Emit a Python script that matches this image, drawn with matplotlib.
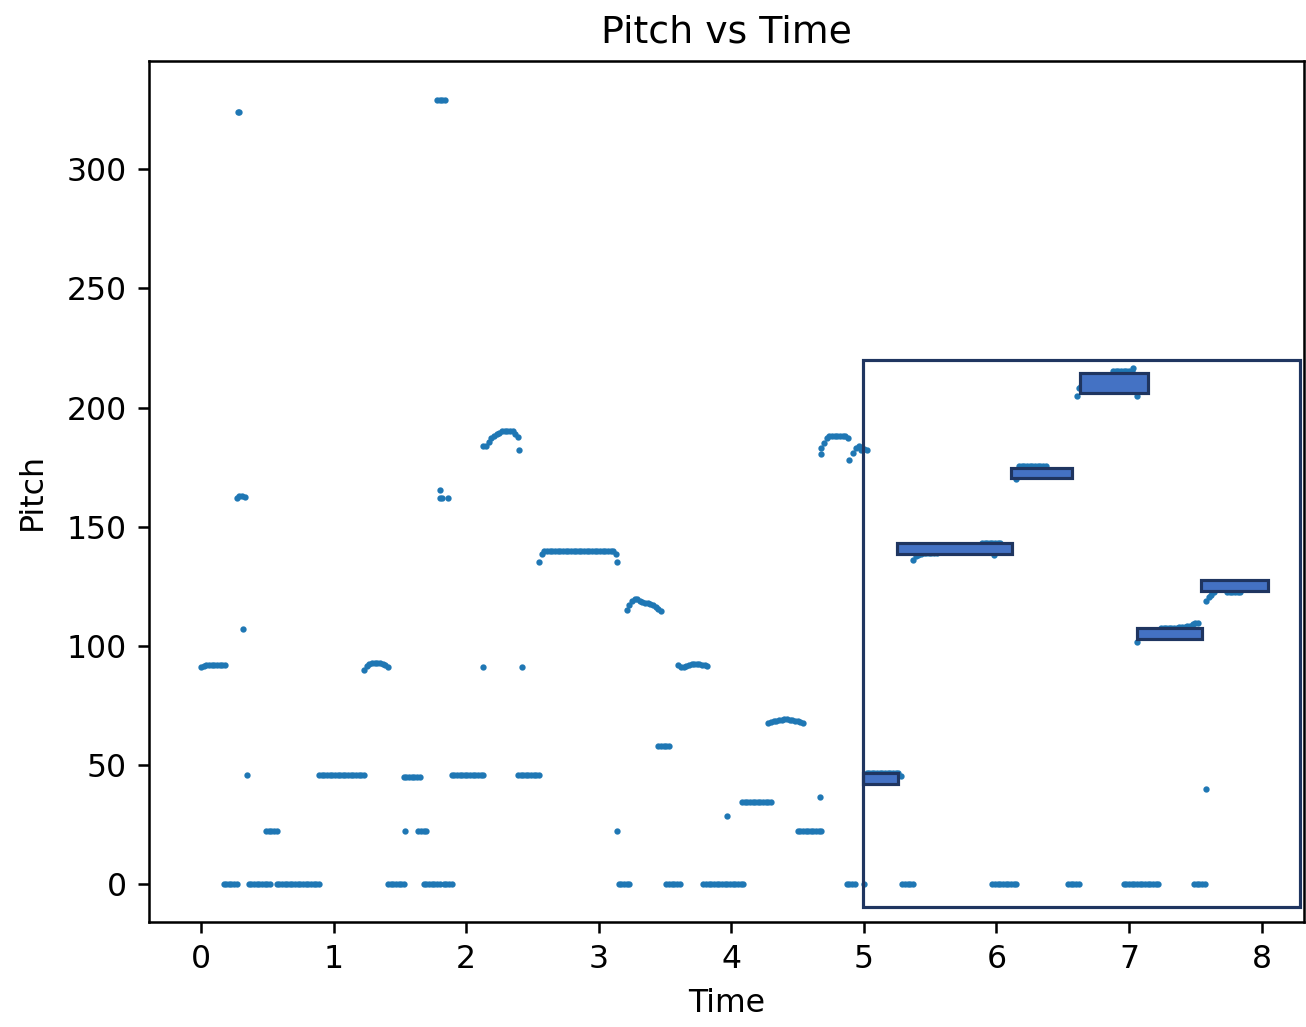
import matplotlib
matplotlib.use("Agg")
from matplotlib import pyplot as plt
from matplotlib.patches import Rectangle


# pitch track (time in s, pitch)
time_s = [
    0.00, 0.02, 0.04, 0.06, 0.08, 0.10, 0.12, 0.14, 0.16, 0.18,
    0.17, 0.19, 0.21, 0.23, 0.25, 0.27,
    0.28, 0.29,
    0.27, 0.29, 0.31, 0.33,
    0.32, 0.35,
    0.36, 0.38, 0.40, 0.42, 0.44, 0.46, 0.48, 0.50, 0.52,
    0.49, 0.51, 0.53, 0.55, 0.57,
    0.57, 0.59, 0.61, 0.63, 0.65, 0.67, 0.69, 0.71, 0.73, 0.75, 0.77, 0.79, 0.81, 0.83, 0.85, 0.87, 0.89,
    0.89, 0.91, 0.93, 0.95, 0.97, 0.99, 1.01, 1.03, 1.05, 1.07, 1.09, 1.11, 1.13, 1.15, 1.17, 1.19, 1.21, 1.23,
    1.23, 1.25, 1.27, 1.29, 1.31, 1.33, 1.35, 1.37, 1.39, 1.41,
    1.41, 1.43, 1.45, 1.47, 1.49, 1.51, 1.53,
    1.54,
    1.53, 1.55, 1.57, 1.59, 1.61, 1.63, 1.65,
    1.64, 1.66, 1.68, 1.70,
    1.68, 1.70, 1.72, 1.74, 1.76, 1.78, 1.80, 1.83, 1.85, 1.87, 1.89,
    1.78, 1.80, 1.82, 1.84,
    1.80, 1.80, 1.82, 1.86,
    1.89, 1.91, 1.93, 1.95, 1.97, 1.99, 2.01, 2.03, 2.05, 2.07, 2.09, 2.11, 2.13,
    2.13,
    2.13, 2.15, 2.17, 2.19, 2.21, 2.23, 2.25, 2.27, 2.29, 2.31, 2.33, 2.35, 2.37, 2.39,
    2.40, 2.42,
    2.39, 2.41, 2.43, 2.45, 2.47, 2.49, 2.51, 2.53, 2.55,
    2.55, 2.57, 2.59, 2.61, 2.63, 2.65, 2.67, 2.69, 2.71, 2.73, 2.75, 2.77, 2.79, 2.81, 2.83, 2.85,
    2.87, 2.89, 2.91, 2.93, 2.95, 2.97, 2.99, 3.01, 3.03, 3.05, 3.07, 3.09, 3.11, 3.13, 3.14,
    3.14,
    3.15, 3.17, 3.19, 3.21, 3.23,
    3.21, 3.23, 3.25, 3.27, 3.29, 3.31, 3.33, 3.35, 3.37, 3.39, 3.41, 3.43, 3.45, 3.47,
    3.45, 3.47, 3.49, 3.51, 3.53,
    3.51, 3.53, 3.55, 3.57, 3.59, 3.61,
    3.60, 3.62, 3.64, 3.66, 3.68, 3.70, 3.72, 3.74, 3.76, 3.78, 3.80, 3.82,
    3.79, 3.81, 3.83, 3.85, 3.87, 3.89, 3.91, 3.93, 3.95, 3.97, 3.99, 4.01, 4.03, 4.05, 4.07, 4.09,
    3.97,
    4.08, 4.10, 4.12, 4.14, 4.16, 4.18, 4.20, 4.22, 4.24, 4.26, 4.28, 4.30,
    4.28, 4.30, 4.32, 4.34, 4.36, 4.38, 4.40, 4.42, 4.44, 4.46, 4.48, 4.50, 4.52, 4.54,
    4.50, 4.52, 4.54, 4.56, 4.58, 4.60, 4.62, 4.64, 4.66, 4.68,
    4.67,
    4.68, 4.70, 4.72, 4.74, 4.76, 4.78, 4.80, 4.82, 4.84, 4.86, 4.88, 4.68, 4.89,
    4.92, 4.94, 4.96, 4.98, 5.00, 5.02,
    4.87, 4.89, 4.91, 4.93, 5.00,
    5.02, 5.04, 5.06, 5.08, 5.10, 5.12, 5.14, 5.16, 5.18, 5.20, 5.22, 5.24, 5.26, 5.28,
    5.29, 5.31, 5.33, 5.35, 5.37,
    5.37, 5.39, 5.41, 5.43, 5.45, 5.47, 5.49, 5.51, 5.53, 5.55, 5.57, 5.59, 5.61, 5.63, 5.65, 5.67, 5.69,
    5.71, 5.73, 5.75, 5.77, 5.79, 5.81, 5.83, 5.85, 5.87, 5.89, 5.91, 5.93, 5.95, 5.97, 5.99, 6.01, 6.03,
    6.05, 5.98,
    5.97, 5.99, 6.01, 6.03, 6.05, 6.07, 6.09, 6.11, 6.13, 6.15,
    6.15, 6.17, 6.19, 6.21, 6.23, 6.25, 6.27, 6.29, 6.31, 6.33, 6.35, 6.37,
    6.54, 6.56, 6.58, 6.60, 6.62,
    6.61, 6.62, 6.64, 6.66, 6.68, 6.70, 6.72, 6.74, 6.76, 6.78, 6.80, 6.82, 6.84, 6.86,
    6.88, 6.90, 6.92, 6.94, 6.96, 6.98, 7.00, 7.02, 7.03, 7.06,
    6.96, 6.98, 7.00, 7.02, 7.04, 7.06, 7.08, 7.10, 7.12, 7.14, 7.16, 7.18, 7.20, 7.22,
    7.06, 7.08, 7.10, 7.12, 7.14, 7.16, 7.18, 7.20, 7.22, 7.24, 7.26, 7.28, 7.30, 7.32, 7.34, 7.36,
    7.38, 7.40, 7.42, 7.44, 7.46, 7.48, 7.50, 7.52,
    7.49, 7.51, 7.53, 7.55, 7.57,
    7.58,
    7.58, 7.60, 7.62, 7.64, 7.66, 7.68, 7.70, 7.72, 7.74, 7.76, 7.78, 7.80, 7.82, 7.84, 7.86, 7.88,
    7.90, 7.92,
]
pitch = [
    91, 91.5, 92, 92, 92, 92, 92, 92, 92, 92,
    0, 0, 0, 0, 0, 0,
    324, 324,
    162, 163, 163, 162.5,
    107, 46,
    0, 0, 0, 0, 0, 0, 0, 0, 0,
    22.5, 22.5, 22.5, 22.5, 22.5,
    0, 0, 0, 0, 0, 0, 0, 0, 0, 0, 0, 0, 0, 0, 0, 0, 0,
    46, 46, 46, 46, 46, 46, 46, 46, 46, 46, 46, 46, 46, 46, 46, 46, 46, 46,
    90, 91.5, 92.5, 93, 93, 93, 93, 92.5, 92, 91,
    0, 0, 0, 0, 0, 0, 0,
    22.5,
    45, 45, 45, 45, 45, 45, 45,
    22.5, 22.5, 22.5, 22.5,
    0, 0, 0, 0, 0, 0, 0, 0, 0, 0, 0,
    329, 329, 329, 329,
    165.5, 162, 162, 162,
    46, 46, 46, 46, 46, 46, 46, 46, 46, 46, 46, 46, 46,
    91,
    184, 184, 185.5, 187, 188, 189, 189.5, 190, 190, 190, 190, 190, 189, 187.5,
    182, 91,
    46, 46, 46, 46, 46, 46, 46, 46, 46,
    135, 138.5, 140, 140, 140, 140, 140, 140, 140, 140, 140, 140, 140, 140, 140, 140,
    140, 140, 140, 140, 140, 140, 140, 140, 140, 140, 140, 140, 140, 138.5, 135,
    22.5,
    0, 0, 0, 0, 0,
    115, 117, 119, 119.5, 119.5, 119, 118.5, 118, 118, 117.5, 117, 116.5, 115.5, 114.5,
    58, 58, 58, 58, 58,
    0, 0, 0, 0, 0, 0,
    92, 91, 91, 91.5, 92, 92.5, 92.5, 92.5, 92.5, 92, 92, 91.5,
    0, 0, 0, 0, 0, 0, 0, 0, 0, 0, 0, 0, 0, 0, 0, 0,
    28.5,
    34.5, 34.5, 34.5, 34.5, 34.5, 34.5, 34.5, 34.5, 34.5, 34.5, 34.5, 34.5,
    67.5, 68, 68.5, 68.5, 69, 69, 69.5, 69.5, 69, 69, 68.5, 68.5, 68, 67.5,
    22.5, 22.5, 22.5, 22.5, 22.5, 22.5, 22.5, 22.5, 22.5, 22.5,
    36.5,
    183, 185, 187, 188, 188, 188, 188, 188, 188, 188, 187, 180.5, 178,
    181, 183, 184, 182, 182.5, 182,
    0, 0, 0, 0, 0,
    46.5, 46.5, 46.5, 46.5, 46.5, 46.5, 46.5, 46.5, 46.5, 46.5, 46.5, 46.5, 46.5, 45.5,
    0, 0, 0, 0, 0,
    136, 137.5, 138, 138.5, 139, 139, 139, 139, 139, 139, 139.5, 139.5, 140, 140, 140, 140, 140.5,
    140.5, 140.5, 141, 141, 141, 141.5, 141.5, 142, 142.5, 143, 143, 143, 143, 143, 143, 143, 143,
    142.5, 138,
    0, 0, 0, 0, 0, 0, 0, 0, 0, 0,
    170, 175.5, 175.5, 175.5, 175.5, 175.5, 175.5, 175.5, 175.5, 175.5, 175.5, 175.5,
    0, 0, 0, 0, 0,
    205, 208, 209, 210, 210, 210.5, 210.5, 211, 211, 211, 211.5, 211.5, 212, 212,
    215.5, 215.5, 215.5, 215.5, 215.5, 215.5, 215.5, 215.5, 216.5, 205,
    0, 0, 0, 0, 0, 0, 0, 0, 0, 0, 0, 0, 0, 0,
    101.5, 105.5, 105.5, 106, 106, 106, 106, 106, 106, 107.5, 107.5, 107.5, 107.5, 107.5, 107.5, 107.5,
    108, 108, 108, 108.5, 108.5, 109, 109.5, 109.5,
    0, 0, 0, 0, 0,
    40,
    119, 120.5, 121.5, 122.5, 124, 124, 124.5, 124.5, 122.5, 122.5, 122.5, 122.5, 122.5, 122.5, 124.5, 124.5,
    125, 125,
]

# transcribed notes
note_start = [4.99, 5.25, 6.11, 6.63, 7.06, 7.54]
note_end = [5.26, 6.12, 6.57, 7.14, 7.55, 8.05]
note_low = [42.0, 138.5, 170.4, 206.0, 102.8, 123.0]
note_high = [46.6, 143.1, 174.5, 214.4, 107.4, 127.6]

# highlighted region
box_t = (4.99, 8.29)
box_p = (-9.7, 220.0)

DPI = 227


def main():
    fig = plt.figure(figsize=(1306 / DPI, 1027 / DPI), dpi=DPI)
    ax = fig.add_axes([0.1141, 0.1022, 0.8844, 0.8384])

    ax.scatter(time_s, pitch, s=1, color="#1f77b4", zorder=2)

    for t0, t1, lo, hi in zip(note_start, note_end, note_low, note_high):
        ax.add_patch(Rectangle((t0, lo), t1 - t0, hi - lo, facecolor="#4472c4",
                               edgecolor="#1f3560", linewidth=1.0, zorder=3))

    ax.add_patch(Rectangle((box_t[0], box_p[0]), box_t[1] - box_t[0], box_p[1] - box_p[0],
                           facecolor="none", edgecolor="#1f3560", linewidth=1.0, zorder=4))

    ax.set_xlim(-0.392, 8.32)
    ax.set_ylim(-15.9, 345.4)
    ax.set_xticks(range(0, 9))
    ax.set_yticks(range(0, 301, 50))

    ax.set_title("Pitch vs Time")
    ax.set_xlabel("Time")
    ax.set_ylabel("Pitch", labelpad=6)

    fig.savefig("out.png", dpi=DPI)


if __name__ == "__main__":
    main()
